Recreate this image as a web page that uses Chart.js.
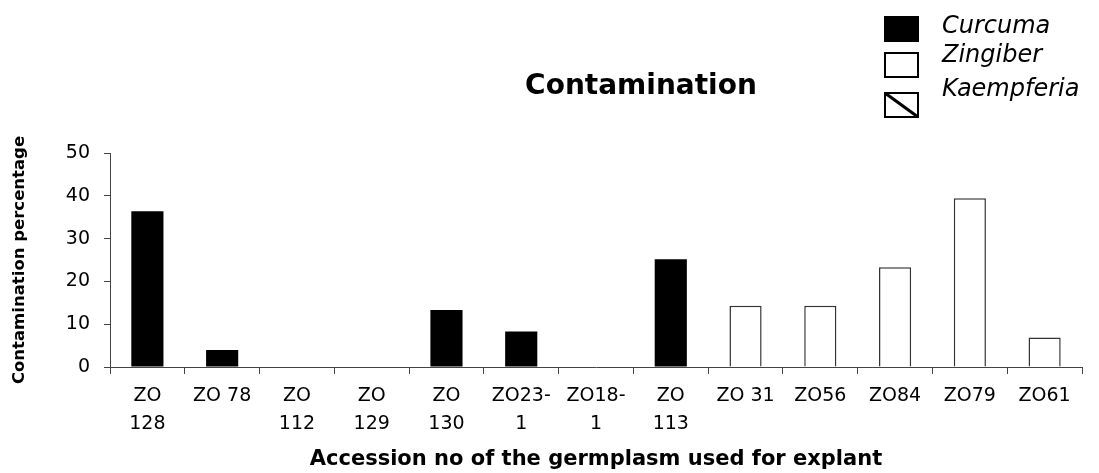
<!DOCTYPE html>
<html>
<head>
<meta charset="utf-8">
<script src="https://cdn.jsdelivr.net/npm/chart.js@4.4.1/dist/chart.umd.min.js"></script>
<style>
  html, body { margin: 0; padding: 0; background: #fff; }
  #wrap { position: relative; width: 1099px; height: 473px; }
</style>
</head>
<body>
<div id="wrap"><canvas id="chart" width="1099" height="473"></canvas></div>
<script>
// ===============================
// DATA
// ===============================
const categories = [
  ['ZO', '128'], ['ZO 78'], ['ZO', '112'], ['ZO', '129'], ['ZO', '130'],
  ['ZO23-', '1'], ['ZO18-', '1'], ['ZO', '113'],
  ['ZO 31'], ['ZO56'], ['ZO84'], ['ZO79'], ['ZO61']
];
const curcuma = [36.4, 4, 0, 0, 13.3, 8.3, 0, 25.2, null, null, null, null, null];
const zingiber = [null, null, null, null, null, null, null, null, 14.3, 14.3, 23.3, 39.4, 6.9];
const kaempferia = [null, null, null, null, null, null, null, null, null, null, null, null, null];
const yTicks = [0, 10, 20, 30, 40, 50];

const FONT = '"DejaVu Sans", sans-serif';

// ===============================
// TITLE + LEGEND PLUGIN
// ===============================
const decorPlugin = {
  id: 'decor',
  afterDraw(chart) {
    const ctx = chart.ctx;
    ctx.save();

    // chart title
    ctx.fillStyle = '#000';
    ctx.font = 'bold 28px ' + FONT;
    ctx.textAlign = 'center';
    ctx.textBaseline = 'middle';
    ctx.fillText('Contamination', 641, 87);

    // legend (boxes and labels are not aligned row by row in the original)
    const boxY = [17, 53, 93];
    const textBase = [33, 62, 96];
    chart.data.datasets.forEach((ds, i) => {
      const x = 885, y = boxY[i], w = 33, h = 24;
      ctx.fillStyle = ds.legendFill;
      ctx.fillRect(x, y, w, h);
      ctx.lineWidth = 2;
      ctx.strokeStyle = '#000';
      ctx.strokeRect(x, y, w, h);
      if (ds.hatch) {
        ctx.lineWidth = 3;
        ctx.beginPath();
        ctx.moveTo(x, y);
        ctx.lineTo(x + w, y + h);
        ctx.stroke();
      }
      ctx.fillStyle = '#000';
      ctx.font = 'oblique 24px ' + FONT;
      ctx.textAlign = 'left';
      ctx.textBaseline = 'alphabetic';
      ctx.fillText(ds.label, 942, textBase[i]);
    });

    ctx.restore();
  }
};

// ===============================
// CHART
// ===============================
new Chart(document.getElementById('chart').getContext('2d'), {
  type: 'bar',
  data: {
    labels: categories,
    datasets: [
      {
        label: 'Curcuma',
        data: curcuma,
        backgroundColor: '#000',
        borderWidth: 0,
        legendFill: '#000'
      },
      {
        label: 'Zingiber',
        data: zingiber,
        backgroundColor: '#fff',
        borderColor: '#333',
        borderWidth: 1.5,
        legendFill: '#fff'
      },
      {
        label: 'Kaempferia',
        data: kaempferia,
        backgroundColor: '#fff',
        borderColor: '#000',
        borderWidth: 1.5,
        legendFill: '#fff',
        hatch: true
      }
    ]
  },
  options: {
    responsive: false,
    animation: false,
    layout: { padding: { top: 153, right: 17, bottom: 0, left: 0 } },
    datasets: {
      bar: { categoryPercentage: 1, barPercentage: 0.43 }
    },
    plugins: {
      legend: { display: false },
      title: { display: false },
      tooltip: { enabled: false }
    },
    scales: {
      x: {
        stacked: true,
        afterFit: s => { s.height = 106; },
        grid: { drawOnChartArea: false, tickLength: 7, color: '#444', offset: true },
        border: { color: '#444', width: 1 },
        ticks: {
          color: '#000',
          maxRotation: 0,
          autoSkip: false,
          padding: 8,
          font: { family: FONT, size: 19, lineHeight: 1.47 }
        },
        title: {
          display: true,
          text: 'Accession no of the germplasm used for explant',
          color: '#000',
          font: { family: FONT, size: 21, weight: 'bold' },
          padding: { top: 0, bottom: 1 }
        }
      },
      y: {
        stacked: true,
        min: 0,
        max: 50,
        afterFit: s => { s.width = 110; },
        afterBuildTicks: s => { s.ticks = yTicks.map(v => ({ value: v })); },
        grid: { drawOnChartArea: false, tickLength: 6, color: '#444' },
        border: { color: '#444', width: 1 },
        ticks: {
          color: '#000',
          padding: 14,
          font: { family: FONT, size: 19 }
        },
        title: {
          display: true,
          text: 'Contamination percentage',
          color: '#000',
          font: { family: FONT, size: 16.5, weight: 'bold' },
          padding: { top: 10, bottom: 0 }
        }
      }
    }
  },
  plugins: [decorPlugin]
});
</script>
</body>
</html>
